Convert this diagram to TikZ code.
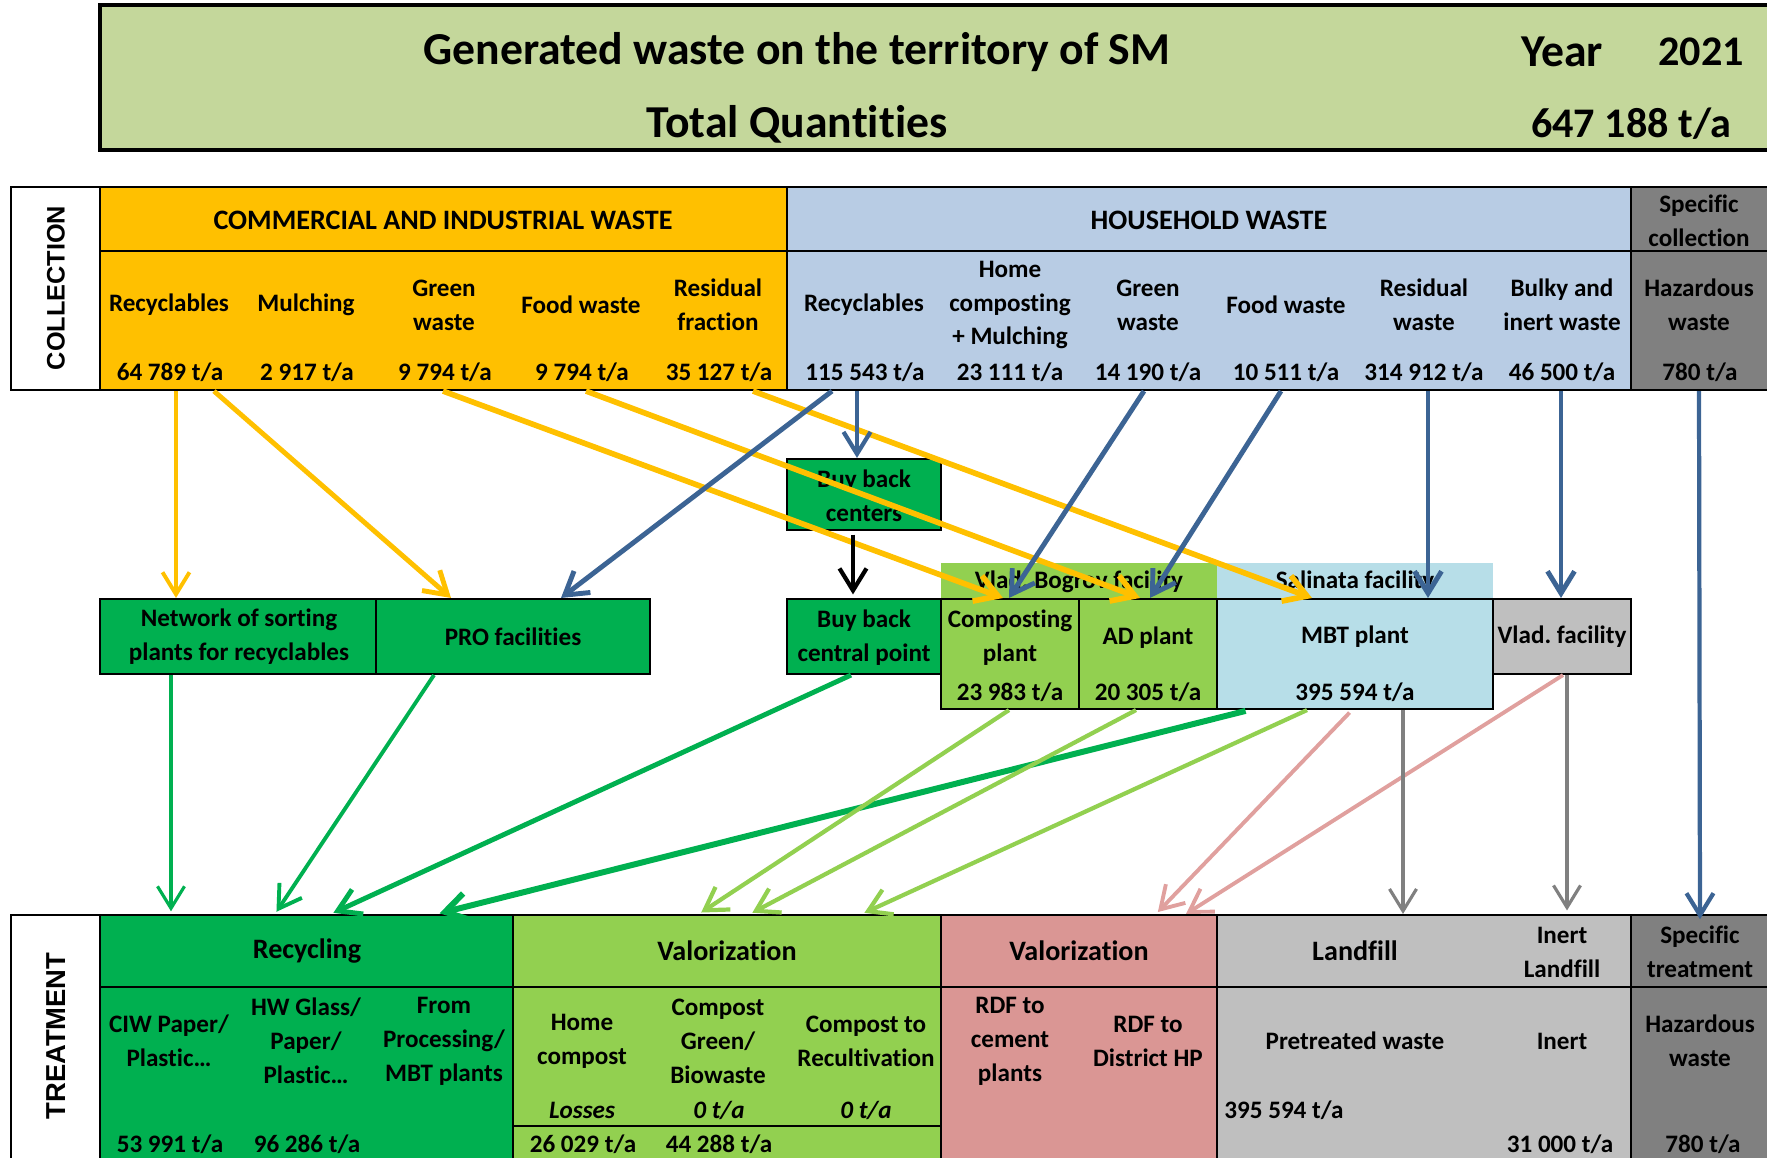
\documentclass[tikz,border=0pt]{standalone}
\usepackage{fontspec}
\setmainfont{Carlito}[Ligatures=CommonOff]
\newfontfamily\sidefont{Liberation Sans}
\usetikzlibrary{arrows.meta,fit}
\frenchspacing

\definecolor{titlegreen}{HTML}{C4D79B}
\definecolor{ciorange}{HTML}{FFC000}
\definecolor{hhblue}{HTML}{B8CCE4}
\definecolor{spgrey}{HTML}{808080}
\definecolor{dkgreen}{HTML}{00B050}
\definecolor{ltgreen}{HTML}{92D050}
\definecolor{mbtblue}{HTML}{B7DEE8}
\definecolor{ltgrey}{HTML}{BFBFBF}
\definecolor{rdfred}{HTML}{DA9694}
\definecolor{arblue}{HTML}{3C6494}
\definecolor{arpink}{HTML}{E0A09E}

\tikzset{
  cell/.style={draw=black, line width=1.2pt, inner sep=0pt},
  txt/.style={font=\bfseries\fontsize{14.3}{19.3}\selectfont, align=center, inner sep=0pt},
  itxt/.style={font=\bfseries\itshape\fontsize{14.3}{19.3}\selectfont, inner sep=0pt},
  head/.style={font=\bfseries\fontsize{16}{19.3}\selectfont, inner sep=0pt},
  big/.style={font=\bfseries\fontsize{26}{30}\selectfont, inner sep=0pt},
  bignum/.style={font=\bfseries\fontsize{24}{30}\selectfont, inner sep=0pt},
  side/.style={font=\sidefont\bfseries, rotate=90, inner sep=0pt},
  flow/.style={line width=2.2pt, -{Straight Barb[length=4.4mm,width=5.4mm]}},
}

\begin{document}
\begin{tikzpicture}[x=0.2mm, y=-0.2mm]
    \useasboundingbox (0,0) rectangle (1767,1157);
    \clip (0,0) rectangle (1767,1157);

    % title block
    \node[cell, line width=2pt, fill=titlegreen, fit={(100,5)(1790,150)}] (ttl) {};
    \node[big] (ttlA) at (797,52) {Generated waste on the territory of SM};
    \node[big] (ttlYear) at (1562,52) {Year};
    \node[bignum] (ttlYr) at (1701,52) {2021};
    \node[big] (ttlB) at (797,124) {Total Quantities};
    \node[bignum] (ttlQty) at (1631,124) {647 188 t/a};

    % collection table
    \node[cell, fill=white, fit={(11,187)(100,390)}] (colLab) {};
    \node[cell, fill=ciorange, fit={(100,187)(787,251)}] (ciHead) {};
    \node[cell, fill=hhblue, fit={(787,187)(1631,251)}] (hhHead) {};
    \node[cell, fill=spgrey, fit={(1631,187)(1790,251)}] (spHead) {};
    \node[cell, fill=ciorange, fit={(100,251)(787,390)}] (ciRow) {};
    \node[cell, fill=hhblue, fit={(787,251)(1631,390)}] (hhRow) {};
    \node[cell, fill=spgrey, fit={(1631,251)(1790,390)}] (spRow) {};

    \node[side, font=\sidefont\bfseries\fontsize{14.4}{17}\selectfont] (colT) at (56,288) {COLLECTION};
    \node[head] (ciHeadT) at (443,220) {COMMERCIAL AND INDUSTRIAL WASTE};
    \node[head] (hhHeadT) at (1209,220) {HOUSEHOLD WASTE};
    \node[txt] (spHeadT) at (1699,221) {Specific\\collection};

    \node[txt] (ciRec) at (169,305) {Recyclables};
    \node[txt] (ciMul) at (306,305) {Mulching};
    \node[txt] (ciGrn) at (444,305) {Green\\waste};
    \node[txt] (ciFood) at (581,305) {Food waste};
    \node[txt] (ciRes) at (718,305) {Residual\\fraction};
    \node[txt] (hhRec) at (864,305) {Recyclables};
    \node[txt] (hhHome) at (1010,305) {Home\\composting\\+ Mulching};
    \node[txt] (hhGrn) at (1148,305) {Green\\waste};
    \node[txt] (hhFood) at (1286,305) {Food waste};
    \node[txt] (hhRes) at (1424,305) {Residual\\waste};
    \node[txt] (hhBulky) at (1562,305) {Bulky and\\inert waste};
    \node[txt] (spHaz) at (1699,305) {Hazardous\\waste};

    \node[txt] (ciRecA) at (170,372) {64 789 t/a};
    \node[txt] (ciMulA) at (307,372) {2 917 t/a};
    \node[txt] (ciGrnA) at (445,372) {9 794 t/a};
    \node[txt] (ciFoodA) at (582,372) {9 794 t/a};
    \node[txt] (ciResA) at (719,372) {35 127 t/a};
    \node[txt] (hhRecA) at (865,372) {115 543 t/a};
    \node[txt] (hhHomeA) at (1010,372) {23 111 t/a};
    \node[txt] (hhGrnA) at (1148,372) {14 190 t/a};
    \node[txt] (hhFoodA) at (1286,372) {10 511 t/a};
    \node[txt] (hhResA) at (1424,372) {314 912 t/a};
    \node[txt] (hhBulkyA) at (1562,372) {46 500 t/a};
    \node[txt] (spHazA) at (1700,372) {780 t/a};

    % intermediate facilities
    \node[cell, fill=dkgreen, fit={(787,459)(941,530)}] (buyC) {};
    \node[txt] (buyCT) at (864,496) {Buy back\\centers};
    \node[inner sep=0pt, fill=ltgreen, fit={(941,563)(1217,600)}] (vbBand) {};
    \node[inner sep=0pt, fill=mbtblue, fit={(1217,563)(1493,600)}] (salBand) {};
    \node[txt] (vbBandT) at (1079,582) {Vlad. Bogrov facility};
    \node[txt] (salBandT) at (1355,582) {Salinata facility};

    \node[cell, fill=dkgreen, fit={(100,599)(376,674)}] (netw) {};
    \node[cell, fill=dkgreen, fit={(376,599)(650,674)}] (pro) {};
    \node[cell, fill=dkgreen, fit={(787,599)(941,674)}] (buyP) {};
    \node[cell, fill=ltgreen, fit={(941,599)(1079,709)}] (comp) {};
    \node[cell, fill=ltgreen, fit={(1079,599)(1217,709)}] (adp) {};
    \node[cell, fill=mbtblue, fit={(1217,599)(1493,709)}] (mbt) {};
    \node[cell, fill=ltgrey, fit={(1493,599)(1631,674)}] (vlad) {};

    \node[txt] (netwT) at (239,637) {Network of sorting\\plants for recyclables};
    \node[txt] (proT) at (513,637) {PRO facilities};
    \node[txt] (buyPT) at (864,638) {Buy back\\central point};
    \node[txt] (compT) at (1010,638) {Composting\\plant};
    \node[txt] (compA) at (1010,692) {23 983 t/a};
    \node[txt] (adpT) at (1148,638) {AD plant};
    \node[txt] (adpA) at (1148,692) {20 305 t/a};
    \node[txt] (mbtT) at (1355,637) {MBT plant};
    \node[txt] (mbtA) at (1355,692) {395 594 t/a};
    \node[txt] (vladT) at (1562,637) {Vlad. facility};

    % treatment table
    \node[cell, fill=white, fit={(11,915)(100,1180)}] (trLab) {};
    \node[cell, fill=dkgreen, fit={(100,915)(513,987)}] (recHead) {};
    \node[cell, fill=ltgreen, fit={(513,915)(941,987)}] (valgHead) {};
    \node[cell, fill=rdfred, fit={(941,915)(1217,987)}] (valrHead) {};
    \node[cell, fill=ltgrey, fit={(1217,915)(1631,987)}] (lfHead) {};
    \node[cell, fill=spgrey, fit={(1631,915)(1790,987)}] (stHead) {};
    \node[cell, fill=dkgreen, fit={(100,987)(513,1180)}] (recRow) {};
    \node[cell, fill=ltgreen, fit={(513,987)(941,1180)}] (valgRow) {};
    \node[cell, fill=rdfred, fit={(941,987)(1217,1180)}] (valrRow) {};
    \node[cell, fill=ltgrey, fit={(1217,987)(1631,1180)}] (lfRow) {};
    \node[cell, fill=spgrey, fit={(1631,987)(1790,1180)}] (stRow) {};
    \draw[line width=1.2pt] (valgRow.west |- 0,1126) -- (valgRow.east |- 0,1126);

    \node[side, font=\sidefont\bfseries\fontsize{15.6}{18}\selectfont] (trT) at (56,1036) {TREATMENT};
    \node[head] (recHeadT) at (307,951) {Recycling};
    \node[head] (valgHeadT) at (727,951) {Valorization};
    \node[head] (valrHeadT) at (1079,951) {Valorization};
    \node[head] (lfHeadT) at (1355,951) {Landfill};
    \node[txt] (inHeadT) at (1562,952) {Inert\\Landfill};
    \node[txt] (stHeadT) at (1700,952) {Specific\\treatment};

    \node[txt] (ciw) at (169,1041) {CIW Paper/\\Plastic…};
    \node[txt] (hwg) at (306,1041) {HW Glass/\\Paper/\\Plastic…};
    \node[txt] (fromP) at (444,1041) {From\\Processing/\\MBT plants};
    \node[txt] (homeC) at (582,1041) {Home\\compost};
    \node[txt] (compG) at (718,1041) {Compost\\Green/\\Biowaste};
    \node[txt] (compR) at (866,1041) {Compost to\\Recultivation};
    \node[txt] (rdfC) at (1010,1041) {RDF to\\cement\\plants};
    \node[txt] (rdfD) at (1148,1041) {RDF to\\District HP};
    \node[txt] (pretr) at (1355,1041) {Pretreated waste};
    \node[txt] (inert) at (1562,1041) {Inert};
    \node[txt] (hazT) at (1700,1041) {Hazardous\\waste};

    \node[itxt] (homeL) at (582,1110) {Losses};
    \node[itxt] (compGA) at (719,1110) {0 t/a};
    \node[itxt] (compRA) at (866,1110) {0 t/a};
    \node[txt, anchor=west] (pretrA) at (1224,1110) {395 594 t/a};

    \node[txt] (ciwA) at (170,1144) {53 991 t/a};
    \node[txt] (hwgA) at (307,1144) {96 286 t/a};
    \node[txt] (homeA) at (583,1144) {26 029 t/a};
    \node[txt] (compGB) at (719,1144) {44 288 t/a};
    \node[txt] (inertA) at (1560,1144) {31 000 t/a};
    \node[txt] (hazA) at (1703,1144) {780 t/a};

    % flows from collection
    \draw[flow, ciorange, line width=2.2pt] (ciRow.south -| 176,0) -- (netw.north -| 176,0);
    \draw[flow, ciorange, line width=2.8pt] (ciRow.south -| 214,0) -- (pro.north -| 451,0);
    \draw[flow, ciorange, line width=3.2pt] (ciRow.south -| 443,0) -- (comp.north -| 1003,0);
    \draw[flow, ciorange, line width=3.2pt] (ciRow.south -| 586,0) -- (adp.north -| 1140,0);
    \draw[flow, ciorange, line width=3.2pt] (ciRow.south -| 753,0) -- (mbt.north -| 1312,0);
    \draw[flow, arblue, line width=2.8pt] (hhRow.south -| 832,0) -- (pro.north -| 561,0);
    \draw[flow, arblue, line width=2.4pt] (hhRow.south -| 857,0) -- (buyC.north -| 857,0);
    \draw[flow, arblue, line width=2.8pt] (hhRow.south -| 1144,0) -- (comp.north -| 1009,0);
    \draw[flow, arblue, line width=2.8pt] (hhRow.south -| 1281,0) -- (adp.north -| 1150,0);
    \draw[flow, arblue, line width=2.8pt] (hhRow.south -| 1428,0) -- (mbt.north -| 1428,0);
    \draw[flow, arblue, line width=2.8pt] (hhRow.south -| 1561,0) -- (vlad.north -| 1561,0);
    \draw[flow, arblue, line width=2.4pt] (spRow.south -| 1699,0) -- ([yshift=-3pt]stHead.north -| 1700,0);
    \draw[flow, black, line width=2.4pt, shorten <=2pt, shorten >=2pt] (buyC.south -| 853,0) -- (buyP.north -| 853,0);

    % flows to treatment
    \draw[flow, dkgreen, line width=1.8pt, shorten >=1.5pt] (netw.south -| 171,0) -- (recHead.north -| 171,0);
    \draw[flow, dkgreen, shorten >=1.5pt] (pro.south -| 434,0) -- (recHead.north -| 275,0);
    \draw[flow, dkgreen, line width=2.8pt, shorten >=1.5pt] (buyP.south -| 851,0) -- (recHead.north -| 331,0);
    \draw[flow, dkgreen, line width=3.4pt, shorten <=2pt, shorten >=1.5pt] (mbt.south -| 1249,0) -- (recHead.north -| 437,0);
    \draw[flow, ltgreen, line width=2.4pt, shorten >=1.5pt] (comp.south -| 1009,0) -- (valgHead.north -| 699,0);
    \draw[flow, ltgreen, line width=2.4pt, shorten >=1.5pt] (adp.south -| 1136,0) -- (valgHead.north -| 750,0);
    \draw[flow, ltgreen, line width=2.4pt, shorten >=1.5pt] (mbt.south -| 1307,0) -- (valgHead.north -| 862,0);
    \draw[flow, arpink, shorten <=2pt, shorten >=1.5pt] (mbt.south -| 1352,0) -- (valrHead.north -| 1156,0);
    \draw[flow, arpink] (vlad.south -| 1563,0) -- (valrHead.north -| 1186,0);
    \draw[flow, spgrey, line width=1.8pt] (mbt.south -| 1403,0) -- (lfHead.north -| 1403,0);
    \draw[flow, spgrey, line width=1.8pt, shorten >=2pt] (vlad.south -| 1567,0) -- (lfHead.north -| 1567,0);
\end{tikzpicture}
\end{document}
